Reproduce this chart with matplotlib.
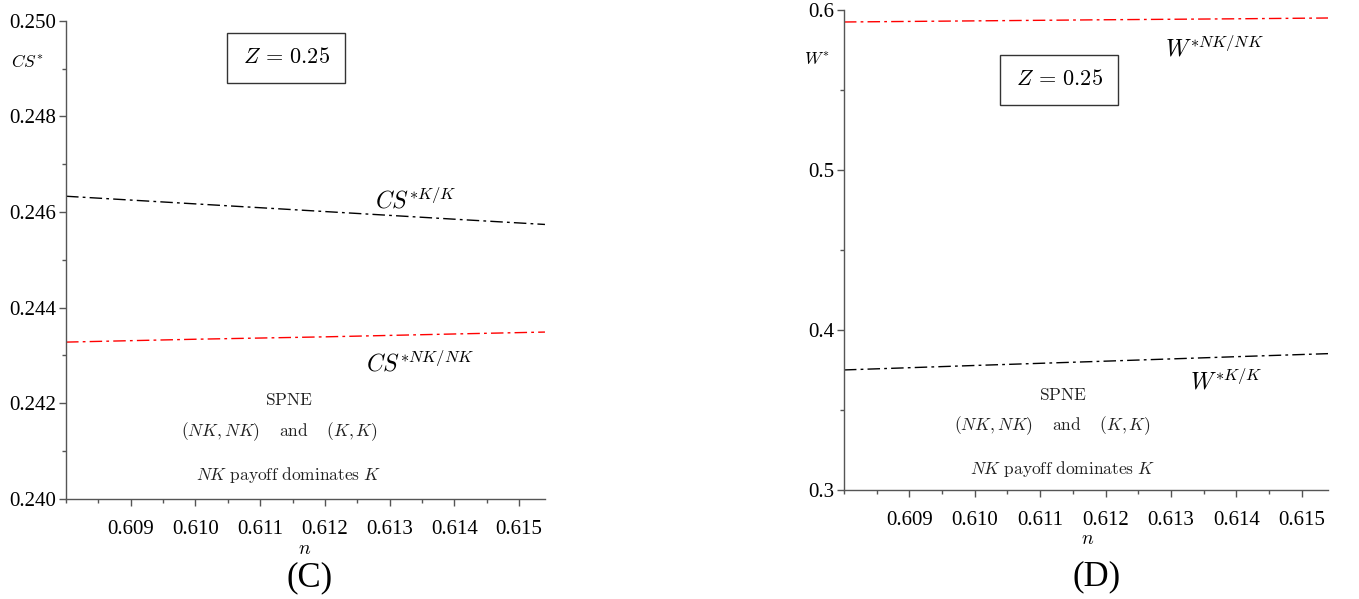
import matplotlib

matplotlib.use("Agg")

import matplotlib.pyplot as plt
from matplotlib.ticker import MultipleLocator, FormatStrFormatter


INK = "black"
SPINE = "#555555"
RED = "#ff0000"
DASHDOT = (0, (9, 3, 2, 3))
TICK_SIZE = 15
NOTE_SIZE = 12.5
CURVE_LABEL_SIZE = 17

# n values at which the curves were sampled
n_values = [0.608, 0.610, 0.612, 0.614, 0.6154]

# panel (C): consumer surplus
cs_kk = [0.24633, 0.24617, 0.24601, 0.24585, 0.24574]
cs_nknk = [0.24328, 0.24334, 0.24339, 0.24345, 0.24349]

# panel (D): welfare
w_nknk = [0.5928, 0.5935, 0.5942, 0.5948, 0.5953]
w_kk = [0.3751, 0.3779, 0.3806, 0.3834, 0.3853]

x_limits = (0.608, 0.6154)
x_ticks = [0.609, 0.610, 0.611, 0.612, 0.613, 0.614, 0.615]


def style_axis(ax, ylim, ymajor, yminor, yfmt):
    ax.set_xlim(*x_limits)
    ax.set_ylim(*ylim)
    for side in ("top", "right"):
        ax.spines[side].set_visible(False)
    for side in ("left", "bottom"):
        ax.spines[side].set_color(SPINE)
        ax.spines[side].set_linewidth(1.0)
    ax.set_xticks(x_ticks)
    ax.xaxis.set_minor_locator(MultipleLocator(0.0005))
    ax.xaxis.set_major_formatter(FormatStrFormatter("%.3f"))
    ax.yaxis.set_major_locator(MultipleLocator(ymajor))
    ax.yaxis.set_minor_locator(MultipleLocator(yminor))
    ax.yaxis.set_major_formatter(FormatStrFormatter(yfmt))
    ax.tick_params(which="both", direction="out", color=SPINE, width=1.0)
    ax.tick_params(which="major", length=5, labelsize=TICK_SIZE, pad=2)
    ax.tick_params(which="minor", length=3)
    ax.tick_params(axis="x", pad=10)
    for lab in ax.get_xticklabels() + ax.get_yticklabels():
        lab.set_fontfamily("Liberation Serif")


def note(ax, x, y, text, size=NOTE_SIZE):
    ax.text(x, y, text, ha="center", va="center", fontsize=size, color="#222222")


def z_box(ax, x, y):
    ax.text(
        x, y, r"$Z\,=\,0.25$", ha="center", va="center", fontsize=16,
        bbox=dict(boxstyle="square,pad=0.68", facecolor="white", edgecolor="#333333", linewidth=1.0),
    )


def spne_notes(ax, x, y_top, y_mid, y_low):
    note(ax, x, y_top, r"$\mathrm{SPNE}$")
    note(ax, x - (x_limits[1] - x_limits[0]) * 0.02, y_mid,
         r"$(NK,NK)\quad\;\mathrm{and}\quad\;(K,K)$")
    note(ax, x, y_low, r"$NK\ \mathrm{payoff\ dominates}\ K$")


def draw_consumer_surplus(ax):
    ax.plot(n_values, cs_kk, color=INK, linewidth=1.0, linestyle=DASHDOT)
    ax.plot(n_values, cs_nknk, color=RED, linewidth=1.0, linestyle=DASHDOT)
    style_axis(ax, (0.240, 0.250), 0.002, 0.001, "%.3f")

    z_box(ax, 0.6114, 0.24922)
    ax.text(0.6134, 0.24625, r"$CS^{*K/K}$", ha="center", va="center", fontsize=CURVE_LABEL_SIZE)
    ax.text(0.61347, 0.24284, r"$CS^{*NK/NK}$", ha="center", va="center", fontsize=CURVE_LABEL_SIZE)
    spne_notes(ax, 0.61144, 0.24205, 0.24140, 0.24050)
    ax.text(-0.081, 0.912, r"$CS^{*}$", transform=ax.transAxes, ha="center", va="center", fontsize=12.5)


def draw_welfare(ax):
    ax.plot(n_values, w_nknk, color=RED, linewidth=1.0, linestyle=DASHDOT)
    ax.plot(n_values, w_kk, color=INK, linewidth=1.0, linestyle=DASHDOT)
    style_axis(ax, (0.3, 0.6), 0.1, 0.05, "%.1f")

    z_box(ax, 0.61129, 0.5566)
    ax.text(0.61366, 0.5766, r"$W^{*NK/NK}$", ha="center", va="center", fontsize=CURVE_LABEL_SIZE)
    ax.text(0.61385, 0.3678, r"$W^{*K/K}$", ha="center", va="center", fontsize=CURVE_LABEL_SIZE)
    spne_notes(ax, 0.61134, 0.3585, 0.3405, 0.3130)
    ax.text(-0.056, 0.895, r"$W^{*}$", transform=ax.transAxes, ha="center", va="center", fontsize=12.5)


def main():
    plt.rcParams.update(
        {
            "font.family": "Liberation Serif",
            "mathtext.fontset": "cm",
            "axes.unicode_minus": False,
        }
    )

    fig = plt.figure(figsize=(13.59, 5.99), dpi=100)
    fig.patch.set_facecolor("white")

    ax_c = fig.add_axes([0.0486, 0.167, 0.3524, 0.7984])
    ax_d = fig.add_axes([0.6210, 0.182, 0.3562, 0.8005])

    draw_consumer_surplus(ax_c)
    draw_welfare(ax_d)

    fig.text(0.224, 0.083, r"$n$", ha="center", va="center", fontsize=14)
    fig.text(0.800, 0.100, r"$n$", ha="center", va="center", fontsize=14)
    fig.text(0.228, 0.035, "(C)", ha="center", va="center", fontsize=25, family="Liberation Serif")
    fig.text(0.807, 0.037, "(D)", ha="center", va="center", fontsize=25, family="Liberation Serif")

    fig.savefig("out.png", dpi=100, facecolor="white")
    plt.close(fig)


if __name__ == "__main__":
    main()
